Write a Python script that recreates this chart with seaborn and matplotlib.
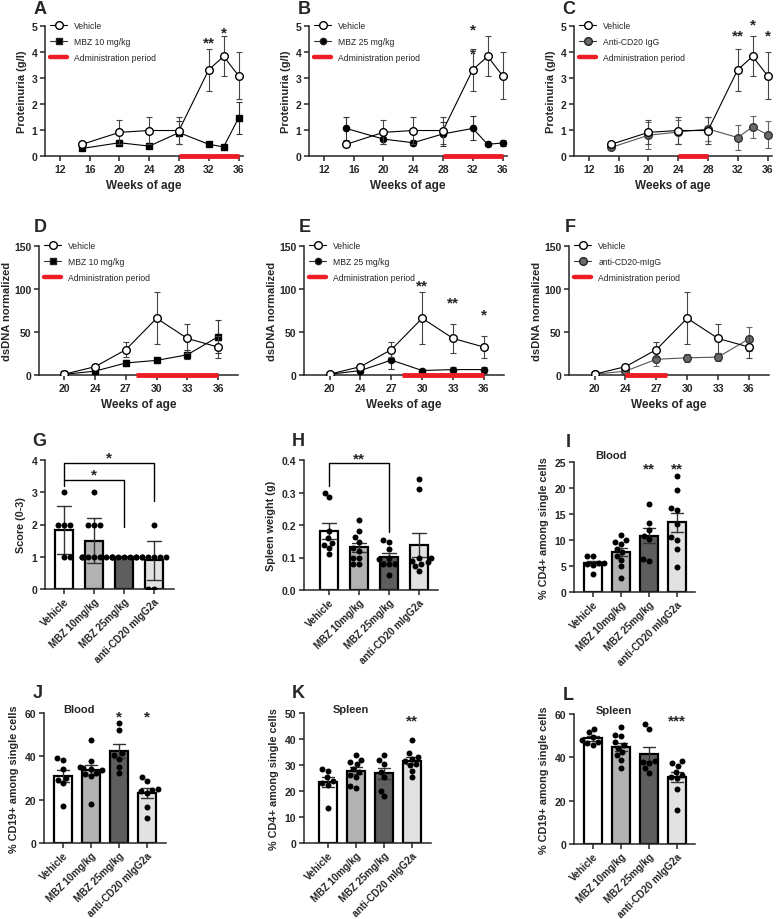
import warnings
import numpy as np
import pandas as pd
import matplotlib
matplotlib.use("Agg")
import matplotlib.pyplot as plt
from matplotlib.lines import Line2D
import seaborn as sns

warnings.filterwarnings("ignore")

# -----------------------------
# Data
# -----------------------------
prot_weeks = [15, 20, 24, 28, 32, 34, 36]
prot_vehicle = [0.45, 0.91, 0.98, 0.98, 3.32, 3.83, 3.09]
prot_vehicle_sem = [0.06, 0.46, 0.52, 0.52, 0.81, 0.77, 0.91]
prot_mbz10 = [0.29, 0.51, 0.38, 0.90, 0.45, 0.35, 1.46]
prot_mbz10_sem = [0.04, 0.10, 0.06, 0.45, 0.06, 0.04, 0.60]
prot_mbz25 = [1.06, 0.65, 0.51, 0.85, 1.06, 0.45, 0.50]
prot_mbz25_sem = [0.45, 0.17, 0.10, 0.45, 0.46, 0.05, 0.12]
prot_cd20 = [0.33, 0.80, 0.92, 1.04, 0.71, 1.12, 0.82]
prot_cd20_sem = [0.05, 0.52, 0.46, 0.46, 0.48, 0.43, 0.52]

dsdna_weeks = [20, 24, 27, 30, 33, 36]
dsdna_vehicle = [1.0, 9.7, 29.5, 66.0, 42.5, 32.5]
dsdna_vehicle_sem = [0.5, 2.5, 8.5, 30.5, 17.0, 13.0]
dsdna_mbz10 = [0.8, 4.5, 14.0, 17.0, 23.5, 44.5]
dsdna_mbz10_sem = [0.3, 1.5, 3.0, 2.0, 5.0, 19.0]
dsdna_mbz25 = [0.8, 5.2, 17.3, 5.2, 6.3, 6.3]
dsdna_mbz25_sem = [0.3, 1.5, 10.5, 1.5, 2.5, 3.5]
dsdna_cd20 = [0.8, 4.5, 18.3, 20.0, 20.8, 42.0]
dsdna_cd20_sem = [0.3, 1.5, 7.5, 5.0, 4.5, 14.0]

admin_cd20 = (24, 28)
admin_mbz = (28, 36)

groups = ["Vehicle", "MBZ 10mg/kg", "MBZ 25mg/kg", "anti-CD20 mIgG2a"]

score = {
    "Vehicle": [3, 2, 2, 2, 1, 1],
    "MBZ 10mg/kg": [3, 2, 2, 2, 1, 1, 1, 1, 1, 1],
    "MBZ 25mg/kg": [1, 1, 1, 1, 1, 1, 1, 1],
    "anti-CD20 mIgG2a": [2, 1, 1, 1, 1, 1, 1, 0, 0],
}
spleen_weight = {
    "Vehicle": [0.300, 0.287, 0.182, 0.160, 0.146, 0.140, 0.130, 0.110],
    "MBZ 10mg/kg": [0.216, 0.183, 0.162, 0.147, 0.128, 0.120, 0.100, 0.100, 0.080, 0.080],
    "MBZ 25mg/kg": [0.155, 0.147, 0.125, 0.100, 0.095, 0.080, 0.080, 0.080, 0.045],
    "anti-CD20 mIgG2a": [0.342, 0.312, 0.100, 0.100, 0.090, 0.085, 0.080, 0.075, 0.060],
}
blood_cd4 = {
    "Vehicle": [6.9, 6.9, 5.6, 5.5, 5.4, 5.2, 3.4],
    "MBZ 10mg/kg": [11.0, 10.0, 9.7, 9.2, 8.2, 7.6, 7.0, 6.2, 5.0, 2.7],
    "MBZ 25mg/kg": [16.9, 13.2, 12.0, 10.8, 10.2, 6.4, 6.0],
    "anti-CD20 mIgG2a": [22.3, 19.6, 16.1, 15.8, 13.0, 10.5, 10.0, 8.3, 4.9],
}
blood_cd19 = {
    "Vehicle": [39.4, 38.5, 34.3, 30.0, 29.0, 27.5, 17.2],
    "MBZ 10mg/kg": [47.5, 37.8, 35.2, 34.5, 34.0, 33.5, 32.5, 32.0, 30.8, 18.2],
    "MBZ 25mg/kg": [55.5, 52.2, 41.5, 40.5, 39.0, 35.0, 32.2],
    "anti-CD20 mIgG2a": [30.3, 28.8, 25.0, 24.5, 24.0, 23.0, 16.8, 11.5],
}
spleen_cd4 = {
    "Vehicle": [28.3, 27.8, 25.2, 24.0, 23.0, 22.5, 13.3],
    "MBZ 10mg/kg": [33.8, 32.0, 31.0, 30.5, 28.5, 27.5, 26.3, 25.5, 22.0, 21.3],
    "MBZ 25mg/kg": [34.0, 31.8, 30.5, 27.5, 25.5, 20.0, 18.0],
    "anti-CD20 mIgG2a": [39.8, 34.5, 33.0, 32.5, 31.5, 30.5, 30.0, 27.8, 25.5],
}
spleen_cd19 = {
    "Vehicle": [53.0, 51.5, 49.5, 48.0, 47.0, 46.5, 45.5],
    "MBZ 10mg/kg": [54.2, 50.4, 50.0, 47.0, 45.5, 44.5, 42.5, 41.0, 39.0, 35.3],
    "MBZ 25mg/kg": [55.2, 53.3, 38.5, 38.0, 37.5, 35.0, 33.0],
    "anti-CD20 mIgG2a": [38.2, 37.5, 36.0, 33.3, 32.0, 31.0, 30.3, 25.2, 15.8],
}

bar_colors = {"Vehicle": "#ffffff", "MBZ 10mg/kg": "#b2b2b2",
              "MBZ 25mg/kg": "#5e5e5e", "anti-CD20 mIgG2a": "#e2e2e2"}
RED = "#ee1c25"

# -----------------------------
# Style
# -----------------------------
sns.set_style("ticks")
plt.rcParams["font.family"] = ["Liberation Sans", "DejaVu Sans"]
plt.rcParams["font.weight"] = "bold"
plt.rcParams["axes.labelweight"] = "bold"
plt.rcParams["axes.linewidth"] = 1.1

W, H = 776, 920
fig = plt.figure(figsize=(W / 100, H / 100), dpi=100)


def add_ax(l, r, t, b):
    ax = fig.add_axes([l / W, 1 - b / H, (r - l) / W, (b - t) / H])
    sns.despine(ax=ax)
    ax.tick_params(width=1.1, length=3.5, labelsize=7.5, pad=2)
    return ax


def bold_ticks(ax):
    for tl in ax.get_xticklabels() + ax.get_yticklabels():
        tl.set_fontweight("bold")


def series(ax, x, y, e, marker, mfc, ms, lc, ec, z):
    mec = "#333333" if mfc == "#6a6a6a" else "black"
    ax.errorbar(x, y, yerr=e, marker=marker, color=lc, mfc=mfc, mec=mec,
                ms=ms, lw=0.8, elinewidth=0.8, ecolor=ec, capsize=2.5, capthick=0.8, zorder=z)


def legend(ax, label2, marker, mfc, ms):
    handles = [
        Line2D([], [], color="black", lw=0.8, marker="o", mfc="white", mec="black", ms=5.5),
        Line2D([], [], color="#333333", lw=0.8, marker=marker, mfc=mfc, mec="#222222", ms=ms),
        Line2D([], [], color=RED, lw=3.2),
    ]
    ax.legend(handles, ["Vehicle", label2, "Administration period"], loc="upper left",
              bbox_to_anchor=(0.0, 1.08), frameon=False,
              prop={"size": 6.2, "weight": "normal"}, handlelength=2.0,
              handletextpad=0.8, labelspacing=0.8, borderaxespad=0.2)


def admin_bar(ax, x0, x1):
    ax.plot([x0, x1], [0, 0], color=RED, lw=3.5, solid_capstyle="butt", clip_on=False, zorder=6)


def star(ax, x, y, s, size=11):
    ax.text(x, y, s, ha="center", va="center", fontsize=size, fontweight="bold", clip_on=False)


# -----------------------------
# Row 1 – Proteinuria
# -----------------------------
prot_specs = [
    ("A", (45, 243), "MBZ 10 mg/kg", prot_mbz10, prot_mbz10_sem, "s", "black", 4.8, "black", "#333333", admin_mbz),
    ("B", (309, 507), "MBZ 25 mg/kg", prot_mbz25, prot_mbz25_sem, "o", "black", 4.5, "black", "#333333", admin_mbz),
    ("C", (574, 772), "Anti-CD20 IgG", prot_cd20, prot_cd20_sem, "o", "#6a6a6a", 5.5, "#555555", "#666666", admin_cd20),
]
prot_axes = []
for letter, (l, r), name, y, e, mk, mfc, ms, lc, ec, adm in prot_specs:
    ax = add_ax(l, r, 27, 157)
    series(ax, prot_weeks, y, e, mk, mfc, ms, lc, ec, 3)
    series(ax, prot_weeks, prot_vehicle, prot_vehicle_sem, "o", "white", 5.5, "black", "#444444", 4)
    ax.set_xlim(10, 36.6)
    ax.set_ylim(0, 5)
    ax.set_xticks([12, 16, 20, 24, 28, 32, 36])
    ax.set_yticks([0, 1, 2, 3, 4, 5])
    ax.set_xlabel("Weeks of age", fontsize=8.5)
    ax.set_ylabel("Proteinuria (g/l)", fontsize=8, labelpad=3)
    bold_ticks(ax)
    admin_bar(ax, *adm)
    legend(ax, name, mk, mfc, ms)
    fig.text((l - 5) / W, 1 - 10 / H, letter, fontsize=13, fontweight="bold", ha="center", va="center")
    prot_axes.append(ax)

star(prot_axes[0], 32, 4.35, "**")
star(prot_axes[0], 34, 4.75, "*")
star(prot_axes[1], 32, 4.85, "*")
star(prot_axes[1], 32, 3.95, "*")
star(prot_axes[2], 32, 4.65, "**")
star(prot_axes[2], 34, 5.05, "*")
star(prot_axes[2], 36, 4.65, "*")

# -----------------------------
# Row 2 – dsDNA
# -----------------------------
pos = np.arange(len(dsdna_weeks))
dsdna_specs = [
    ("D", (39, 238), "MBZ 10 mg/kg", dsdna_mbz10, dsdna_mbz10_sem, "s", "black", 4.8, "black", "#333333", admin_mbz),
    ("E", (304, 504), "MBZ 25 mg/kg", dsdna_mbz25, dsdna_mbz25_sem, "o", "black", 4.5, "black", "#333333", admin_mbz),
    ("F", (569, 769), "anti-CD20-mIgG", dsdna_cd20, dsdna_cd20_sem, "o", "#6a6a6a", 5.5, "#555555", "#666666", admin_cd20),
]
dsdna_axes = []
for letter, (l, r), name, y, e, mk, mfc, ms, lc, ec, adm in dsdna_specs:
    ax = add_ax(l, r, 247, 376)
    series(ax, pos, y, e, mk, mfc, ms, lc, ec, 3)
    series(ax, pos, dsdna_vehicle, dsdna_vehicle_sem, "o", "white", 5.5, "black", "#444444", 4)
    ax.set_xlim(-0.83, 5.65)
    ax.set_ylim(0, 150)
    ax.set_xticks(pos)
    ax.set_xticklabels([str(w) for w in dsdna_weeks])
    ax.set_yticks([0, 50, 100, 150])
    ax.set_xlabel("Weeks of age", fontsize=8.5)
    ax.set_ylabel("dsDNA normalized", fontsize=8, labelpad=1.5)
    bold_ticks(ax)
    x0, x1 = np.interp(adm, dsdna_weeks, pos)
    admin_bar(ax, x0, x1)
    legend(ax, name, mk, mfc, ms)
    fig.text((l + 1) / W, 1 - 228 / H, letter, fontsize=13, fontweight="bold", ha="center", va="center")
    dsdna_axes.append(ax)

star(dsdna_axes[1], 3, 104, "**")
star(dsdna_axes[1], 4, 84, "**")
star(dsdna_axes[1], 5, 70, "*")

# -----------------------------
# Rows 3–4 – bar + dot panels
# -----------------------------
bar_specs = [
    ("G", (45, 174, 461, 590), score, "Score (0-3)", (0, 4), [0, 1, 2, 3, 4], "sd", (-0.63, 3.67), None),
    ("H", (304, 438, 461, 591), spleen_weight, "Spleen weight (g)", (0, 0.4), [0.0, 0.1, 0.2, 0.3, 0.4], "se", (-0.83, 3.63), None),
    ("I", (574, 695, 463, 593), blood_cd4, "% CD4+ among single cells", (0, 25), [0, 5, 10, 15, 20, 25], "se", (-0.68, 3.64), ("Blood", 0.65, 26.3)),
    ("J", (44, 166, 714, 844), blood_cd19, "% CD19+ among single cells", (0, 60), [0, 20, 40, 60], "se", (-0.68, 3.68), ("Blood", 0.57, 62)),
    ("K", (304, 431, 714, 844), spleen_cd4, "% CD4+ among single cells", (0, 50), [0, 10, 20, 30, 40, 50], "se", (-0.86, 3.68), ("Spleen", 0.82, 51.5)),
    ("L", (574, 695, 715, 845), spleen_cd19, "% CD19+ among single cells", (0, 60), [0, 20, 40, 60], "se", (-0.68, 3.64), ("Spleen", 0.75, 62)),
]
bar_axes = []
for letter, (l, r, t, b), data, ylab, ylim, yticks, err, xlim, title in bar_specs:
    ax = add_ax(l, r, t, b)
    df = pd.DataFrame({"group": [g for g in groups for _ in data[g]],
                       "value": [v for g in groups for v in data[g]]})
    sns.barplot(data=df, x="group", y="value", hue="group", order=groups, hue_order=groups,
                palette=bar_colors, saturation=1, errorbar=err, capsize=0.45, width=0.62,
                err_kws={"color": "#333333", "linewidth": 1.0}, edgecolor="black",
                linewidth=1.6, legend=False, ax=ax)
    sns.swarmplot(data=df, x="group", y="value", order=groups, color="black", size=4.3, ax=ax)
    ax.set_xlim(*xlim)
    ax.set_ylim(*ylim)
    ax.set_yticks(yticks)
    if letter == "H":
        ax.set_yticklabels([f"{v:.1f}" for v in yticks])
    ax.set_xticks(range(len(groups)))
    ax.set_xticklabels(groups, rotation=45, ha="right", rotation_mode="anchor", fontsize=7.2)
    ax.tick_params(axis="x", pad=1.5)
    ax.set_xlabel("")
    ax.set_ylabel(ylab, fontsize=7.8)
    bold_ticks(ax)
    if title:
        ax.text(title[1], title[2], title[0], ha="center", va="center", fontsize=8, fontweight="bold")
    fig.text((l - 6) / W, 1 - (t - 20) / H, letter, fontsize=13, fontweight="bold", ha="center", va="center")
    bar_axes.append(ax)

# brackets G
axg = bar_axes[0]
axg.plot([0, 0, 2, 2], [3.2, 3.38, 3.38, 1.92], color="black", lw=1, clip_on=False)
axg.plot([0, 0, 3, 3], [3.38, 3.9, 3.9, 2.73], color="black", lw=1, clip_on=False)
star(axg, 1.0, 3.55, "*")
star(axg, 1.5, 4.07, "*")

# bracket H
axh = bar_axes[1]
axh.plot([0, 0, 2, 2], [0.32, 0.39, 0.39, 0.18], color="black", lw=1, clip_on=False)
star(axh, 1.0, 0.405, "**")

star(bar_axes[2], 2, 23.8, "**")
star(bar_axes[2], 3, 23.8, "**")
star(bar_axes[3], 2, 58.5, "*")
star(bar_axes[3], 3, 58.5, "*")
star(bar_axes[4], 3, 47, "**")
star(bar_axes[5], 3, 57, "***")

fig.savefig("out.png", dpi=100)
